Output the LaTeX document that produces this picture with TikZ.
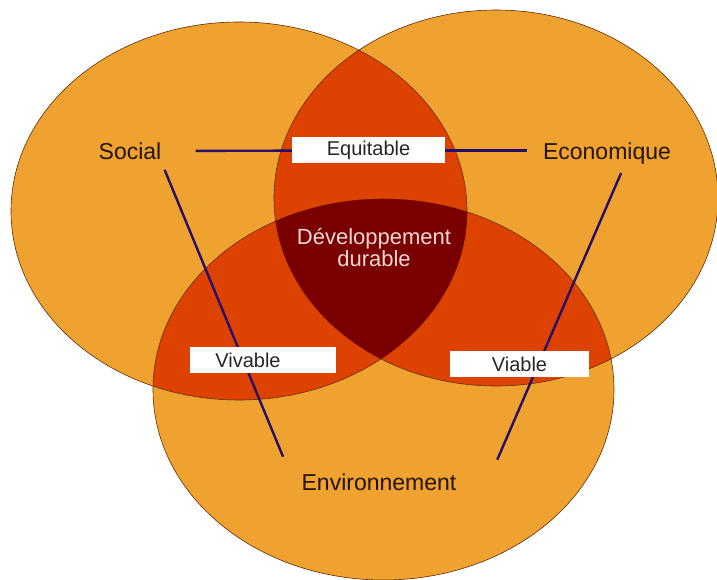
\documentclass[tikz,border=0pt]{standalone}
\usepackage{fontspec}
\setmainfont{Liberation Sans}
\usepackage{xcolor}
\usetikzlibrary{positioning}
\definecolor{orangepale}{RGB}{240,162,48}
\definecolor{rougemoyen}{RGB}{222,66,0}
\definecolor{rougefonce}{RGB}{122,0,0}
\definecolor{traitbleu}{RGB}{40,12,105}
\definecolor{bord}{RGB}{95,45,10}
\definecolor{brunfonce}{RGB}{35,20,5}
\pgfdeclarelayer{fond}
\pgfdeclarelayer{traits}
\pgfsetlayers{fond,traits,main}
\tikzset{
    %Define style for the white boxes
    etiquette/.style={
        rectangle,
        fill=white,
        text=black!85,
        font=\fontsize{20}{24}\selectfont,
        minimum height=26pt,
        inner sep=0pt},
    %Define style for the three poles
    pole/.style={
        text=brunfonce,
        font=\fontsize{23}{27}\selectfont,
        inner sep=6pt},
    % Define line style
    trait/.style={
        draw=traitbleu,
        line width=2.4pt}
}
\def\cercleS{(239,211) ellipse [x radius=228, y radius=189]}
\def\cercleE{(496,198) ellipse [x radius=222, y radius=188]}
\def\cercleV{(383.5,389.5) ellipse [x radius=230.5, y radius=190.5]}

\begin{document}
\begin{tikzpicture}[x=1pt,y=-1pt]
  \useasboundingbox (0,0) rectangle (717,580);
  % the three circles
  \begin{pgfonlayer}{fond}
    \fill[orangepale] \cercleS;
    \fill[orangepale] \cercleE;
    \fill[orangepale] \cercleV;
    \begin{scope}
      \clip \cercleS;
      \fill[rougemoyen] \cercleE;
      \fill[rougemoyen] \cercleV;
    \end{scope}
    \begin{scope}
      \clip \cercleE;
      \fill[rougemoyen] \cercleV;
    \end{scope}
    \draw[bord, line width=0.6pt] \cercleS \cercleE \cercleV;
    \begin{scope}
      \clip \cercleS;
      \clip \cercleE;
      \fill[rougefonce] \cercleV;
    \end{scope}
  \end{pgfonlayer}
  %nodes
  \node[pole] (social) at (130,151) {Social};
  \node[pole] (eco) at (607,154) {Economique};
  \node[pole] (envi) at (379,482) {Environnement};
  \node[etiquette, minimum width=153pt] (equit) at (368.5,150.5) {Equitable};
  \node[etiquette, minimum width=146pt] (vivab) at (263,360) {Vivable\kern30pt};
  \node[etiquette, minimum width=139pt] (viab) at (519.5,364) {Viable};
  \node[text={rgb,255:red,240;green,215;blue,215}, align=center,
        font=\fontsize{22}{22}\selectfont] (dd) at (374,248) {Développement\\durable};
  % lines behind the boxes
  \begin{pgfonlayer}{traits}
    \draw[trait, shorten <=28pt] (social) -- (equit);
    \draw[trait, shorten >=10pt] (equit.east) -- (equit.east -| eco.west);
    \draw[trait, shorten <=4.5pt, shorten >=11.5pt] (social.-24) -- ([xshift=-8pt]envi.north west);
    \draw[trait, shorten <=2.4pt, shorten >=8.3pt] ([xshift=15pt]eco.south) -- ([xshift=31.4pt]envi.north east);
  \end{pgfonlayer}
\end{tikzpicture}
\end{document}
